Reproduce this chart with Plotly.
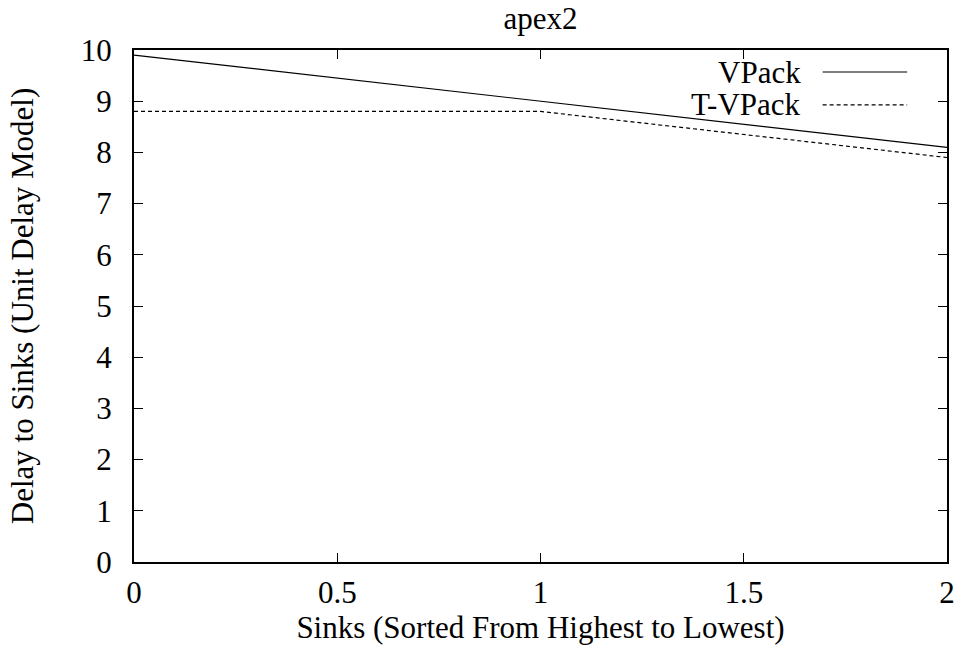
import plotly.graph_objects as go

# Sink index along the x axis
sinks = [0, 1, 2]
# Delay to each sink under the unit delay model
vpack = [9.9, 9.0, 8.1]
tvpack = [8.8, 8.8, 7.9]

x_ticks = [0, 0.5, 1, 1.5, 2]
x_tick_text = ["0", "0.5", "1", "1.5", "2"]
y_ticks = list(range(0, 11))

FONT = "Liberation Serif"
FS = 31

fig = go.Figure()
fig.add_trace(go.Scatter(x=sinks, y=vpack, mode="lines", name="VPack",
                         line=dict(color="black", width=1.2), showlegend=False))
fig.add_trace(go.Scatter(x=sinks, y=tvpack, mode="lines", name="T-VPack",
                         line=dict(color="black", width=1.2, dash="4px,3px"), showlegend=False))

# gnuplot-style key: label on the left, line sample on the right
key = [("VPack", "solid", 0.957), ("T-VPack", "4px,3px", 0.893)]
for label, dash, ky in key:
    fig.add_annotation(x=0.823, y=ky, xref="paper", yref="paper", text=label,
                       showarrow=False, xanchor="right", yanchor="middle",
                       font=dict(family=FONT, size=FS, color="black"))
    fig.add_shape(type="line", xref="paper", yref="paper", x0=0.847, x1=0.951,
                  y0=ky, y1=ky, line=dict(color="black", width=1.2, dash=dash))

axis_common = dict(showgrid=False, zeroline=False, showline=True, linecolor="black",
                   linewidth=2, mirror="allticks", ticks="inside", ticklen=9,
                   tickcolor="black", tickwidth=1, automargin=False,
                   tickfont=dict(family=FONT, size=FS, color="black"))

fig.update_xaxes(range=[0, 2], tickvals=x_ticks, ticktext=x_tick_text,
                 ticklabelstandoff=2,
                 title=dict(text="Sinks (Sorted From Highest to Lowest)", standoff=0,
                            font=dict(family=FONT, size=FS, color="black")),
                 **axis_common)
fig.update_yaxes(range=[0, 10], tickvals=y_ticks, ticklabelstandoff=14,
                 title=dict(text="Delay to Sinks (Unit Delay Model)", standoff=38,
                            font=dict(family=FONT, size=FS, color="black")),
                 **axis_common)

fig.update_layout(
    width=959, height=648,
    margin=dict(l=134, r=12, t=50, b=86),
    paper_bgcolor="white", plot_bgcolor="white",
    title=dict(text="apex2", x=0.5, xref="paper", xanchor="center",
               y=0.972, yanchor="middle",
               font=dict(family=FONT, size=FS, color="black")),
)

fig.write_html("out.html")
